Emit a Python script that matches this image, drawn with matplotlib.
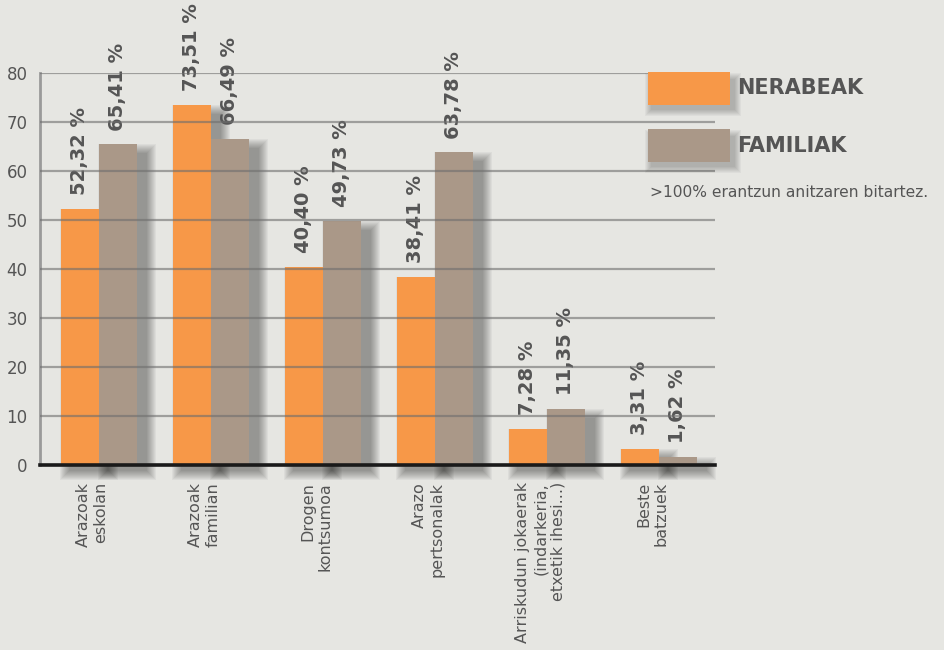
#!/usr/bin/env python3
import matplotlib

matplotlib.use("Agg")
import matplotlib.pyplot as plt
from matplotlib.patches import Rectangle


CATEGORIES = [
    "Arazoak\neskolan",
    "Arazoak\nfamilian",
    "Drogen\nkontsumoa",
    "Arazo\npertsonalak",
    "Arriskudun jokaerak\n(indarkeria,\netxetik ihesi...)",
    "Beste\nbatzuek",
]
NERABEAK = [52.32, 73.51, 40.40, 38.41, 7.28, 3.31]
FAMILIAK = [65.41, 66.49, 49.73, 63.78, 11.35, 1.62]
SERIES_NAMES = ["NERABEAK", "FAMILIAK"]
NOTE = ">100% erantzun anitzaren bitartez."
Y_TICKS = [0, 10, 20, 30, 40, 50, 60, 70, 80]

BG = "#e6e6e2"
ORANGE = "#f79848"
TAUPE = "#aa9888"
TEXT = "#555555"

W, H = 944, 650


def fmt(v: float) -> str:
    return f"{v:.2f}".replace(".", ",") + " %"


def main() -> None:
    fig = plt.figure(figsize=(W / 100, H / 100), dpi=100, facecolor=BG)
    x0, x1, y0, y1 = 40, 715, 465, 73
    ax = fig.add_axes([x0 / W, 1 - y0 / H, (x1 - x0) / W, (y0 - y1) / H])
    ax.set_facecolor(BG)

    spacing = 112.0  # px between group centres
    px = 1 / spacing
    py = 80 / (y0 - y1)
    ax.set_xlim((x0 - 99) / spacing, (x1 - 99) / spacing)
    ax.set_ylim(0, 80)
    width = 38 * px

    # soft drop shadows, shifted right and down
    for i in range(len(CATEGORIES)):
        for j, vals in enumerate([NERABEAK, FAMILIAK]):
            left = i + (j - 1) * width
            for k in range(1, 11):
                ax.add_patch(Rectangle(
                    (left + (9 - k) * px, -(5 + k) * py),
                    width + 2 * k * px, vals[i] + (2 * k - 5) * py,
                    facecolor="black", alpha=0.04, lw=0, zorder=1, clip_on=False))

    for j, (vals, col) in enumerate([(NERABEAK, ORANGE), (FAMILIAK, TAUPE)]):
        xs = [i + (j - 0.5) * width for i in range(len(CATEGORIES))]
        ax.bar(xs, vals, width=width, color=col, zorder=2, linewidth=0)
        for x, v in zip(xs, vals):
            ax.annotate(fmt(v), (x, v), xytext=(0, 10), textcoords="offset points",
                        rotation=90, ha="center", va="bottom", fontsize=14,
                        fontweight="bold", color=TEXT, annotation_clip=False)

    for t in Y_TICKS[1:]:
        ax.axhline(t, color="#6e6e6e", alpha=0.6, lw=1.6, zorder=3)

    for s in ["top", "right"]:
        ax.spines[s].set_visible(False)
    ax.spines["left"].set_color("#9a9a9a")
    ax.spines["left"].set_linewidth(2)
    ax.spines["bottom"].set_color("#1a1a1a")
    ax.spines["bottom"].set_linewidth(2.6)
    ax.spines["bottom"].set_zorder(4)

    ax.set_yticks(Y_TICKS)
    ax.set_yticklabels([str(t) for t in Y_TICKS])
    ax.tick_params(axis="y", length=0, pad=9, labelsize=12, labelcolor=TEXT)
    ax.set_xticks([])

    for i, lab in enumerate(CATEGORIES):
        ax.text(i - 0.06, -17 * py, lab, rotation=90, ha="center", va="top",
                multialignment="right", fontsize=11.5, color=TEXT, clip_on=False)

    # legend
    for k, (name, col) in enumerate(zip(SERIES_NAMES, [ORANGE, TAUPE])):
        top = 72 + k * 57
        for s in range(1, 8):
            fig.patches.append(Rectangle(
                ((648 + 4 - s) / W, 1 - (top + 33 + 4 + s) / H),
                (82 + 2 * s) / W, (33 + 2 * s - 4) / H,
                transform=fig.transFigure, facecolor="black", alpha=0.035, lw=0))
        fig.patches.append(Rectangle(
            (648 / W, 1 - (top + 33) / H), 82 / W, 33 / H,
            transform=fig.transFigure, facecolor=col, lw=0))
        fig.text(737 / W, 1 - (top + 16.5) / H, name, ha="left", va="center",
                 fontsize=15, fontweight="bold", color=TEXT)
    fig.text(650 / W, 1 - 193 / H, NOTE, ha="left", va="center",
             fontsize=11.2, color=TEXT)

    fig.savefig("out.png", dpi=100, facecolor=BG)
    plt.close(fig)


if __name__ == "__main__":
    main()
